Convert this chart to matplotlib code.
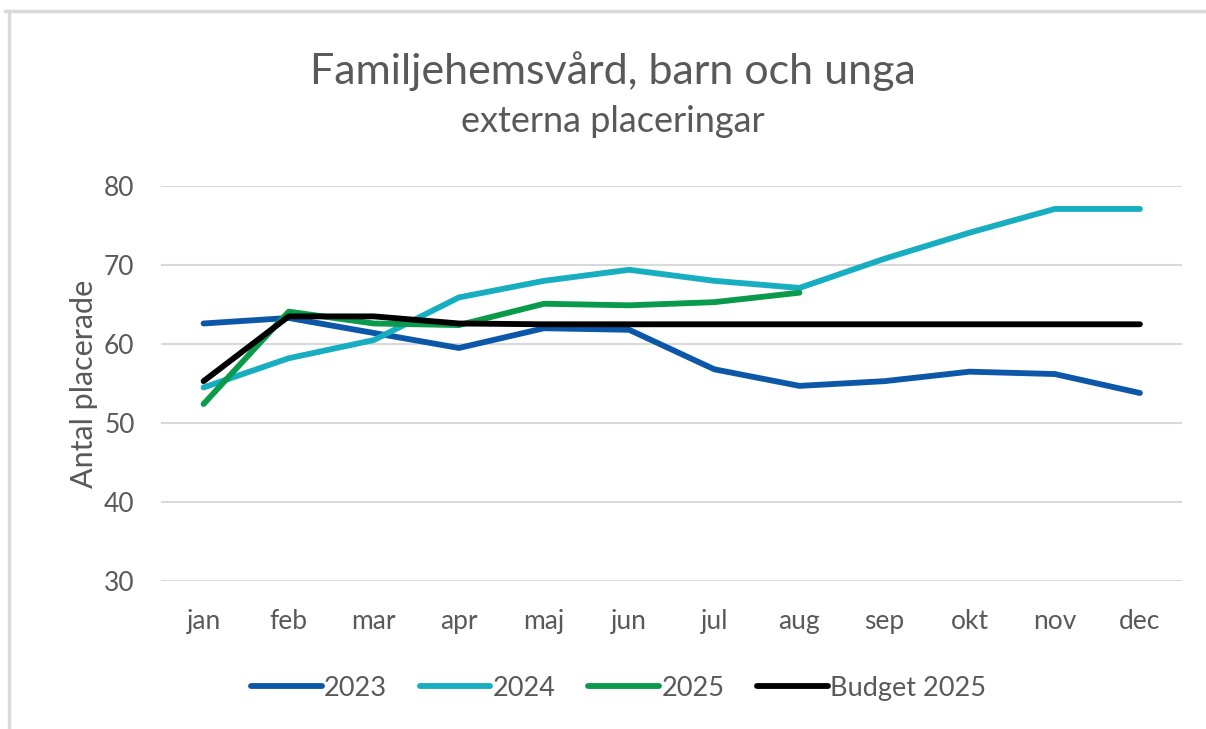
import matplotlib
matplotlib.use("Agg")
import matplotlib.pyplot as plt
from matplotlib.lines import Line2D

# data
months = ["jan", "feb", "mar", "apr", "maj", "jun", "jul", "aug", "sep", "okt", "nov", "dec"]
y2023 = [62.6, 63.3, 61.4, 59.5, 62.0, 61.8, 56.8, 54.7, 55.3, 56.5, 56.2, 53.8]
y2024 = [54.5, 58.2, 60.5, 65.9, 68.0, 69.4, 68.0, 67.1, 70.8, 74.1, 77.1, 77.1]
y2025 = [52.4, 64.1, 62.6, 62.4, 65.1, 64.9, 65.3, 66.5]
budget = [55.3, 63.5, 63.5, 62.6, 62.5, 62.5, 62.5, 62.5, 62.5, 62.5, 62.5, 62.5]

series = [
    ("2023", y2023, "#0D57A8"),
    ("2024", y2024, "#17AEC2"),
    ("2025", y2025, "#0A9A4C"),
    ("Budget 2025", budget, "#000000"),
]

txt = "#595959"
plt.rcParams["font.family"] = ["Lato", "DejaVu Sans"]

fig = plt.figure(figsize=(12.06, 7.29), dpi=100)
ax = fig.add_axes([0.1335, 0.203, 0.847, 0.5418])

x = range(len(months))
for name, vals, col in series:
    ax.plot(list(x)[:len(vals)], vals, color=col, lw=4.2, solid_capstyle="round",
            solid_joinstyle="round", label=name)

ax.set_xlim(-0.5, 11.5)
ax.set_ylim(30, 80)
ax.set_yticks([30, 40, 50, 60, 70, 80])
ax.set_xticks(list(x))
ax.set_xticklabels(months)
ax.grid(axis="y", color="#D9D9D9", lw=1.5)
ax.set_axisbelow(True)
for s in ax.spines.values():
    s.set_visible(False)
ax.tick_params(axis="both", length=0, labelsize=19, colors=txt)
ax.tick_params(axis="x", pad=20)
ax.tick_params(axis="y", pad=19)
ax.set_ylabel("Antal placerade", fontsize=22, color=txt, labelpad=4)

fig.text(0.508, 0.903, "Familjehemsvård, barn och unga", ha="center", va="center",
         fontsize=31, color=txt)
fig.text(0.508, 0.833, "externa placeringar", ha="center", va="center",
         fontsize=26, color=txt)

handles = [Line2D([0], [0], color=c, lw=4.2, solid_capstyle="round") for _, _, c in series]
leg = fig.legend(handles, [n for n, _, _ in series], loc="center", ncol=4,
                 bbox_to_anchor=(0.513, 0.056), frameon=False, fontsize=19.5,
                 handlelength=2.6, handletextpad=0.1, columnspacing=1.2)
for t in leg.get_texts():
    t.set_color(txt)

# thin frame lines at top and left as in the screenshot
fig.add_artist(Line2D([0.004, 1.0], [1 - 11 / 729, 1 - 11 / 729], color="#D9D9D9", lw=2.5,
                      transform=fig.transFigure))
fig.add_artist(Line2D([9 / 1206, 9 / 1206], [0, 1 - 11 / 729], color="#D9D9D9", lw=2.5,
                      transform=fig.transFigure))

fig.savefig("out.png", dpi=100)
